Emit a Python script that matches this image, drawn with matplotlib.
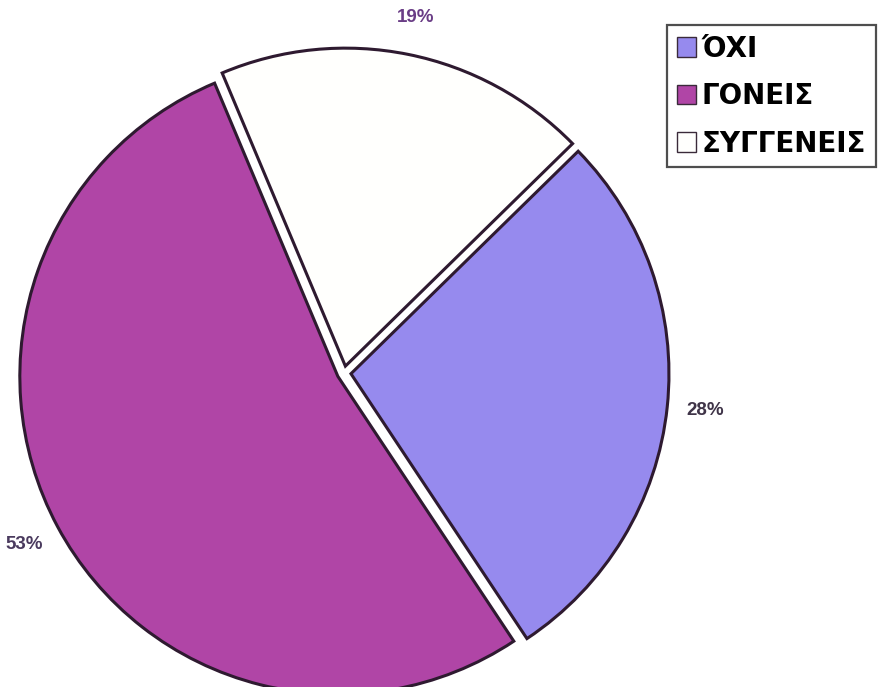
import matplotlib
matplotlib.use("Agg")
import matplotlib.pyplot as plt

categories = ["ΌΧΙ", "ΓΟΝΕΙΣ", "ΣΥΓΓΕΝΕΙΣ"]
values = [28, 53, 19]
colors = ["#968aee", "#b045a6", "#fffffd"]

plt.rcParams['font.family'] = ['Liberation Sans', 'DejaVu Sans']

W, H = 889, 687
fig = plt.figure(figsize=(W / 100, H / 100), dpi=100)
ax = fig.add_axes([0, 0, 1, 1])

# pie drawn in pixel-sized data units; explode is an absolute offset
wedges, texts, autotexts = ax.pie(
    values,
    colors=colors,
    startangle=44.4,
    counterclock=False,
    center=(344, 314),
    radius=318,
    explode=[7, 7, 7],
    autopct=lambda p: f"{p:.0f}%",
    pctdistance=1.12,
    frame=True,
    wedgeprops=dict(edgecolor="#2e1a30", linewidth=2.2),
)
ax.axis('off')
ax.set_xlim(0, W)
ax.set_ylim(0, H)
ax.set_aspect('equal')

pct_colors = ["#3f3448", "#4a3a5e", "#6a3d86"]
for t, c in zip(autotexts, pct_colors):
    t.set_fontsize(13.5)
    t.set_fontweight('bold')
    t.set_color(c)

leg = fig.legend(
    wedges, categories,
    loc='upper left',
    bbox_to_anchor=(667 / W, 1 - 25 / H),
    prop=dict(family='DejaVu Sans', weight='bold', size=20),
    frameon=True,
    fancybox=False,
    handlelength=0.7,
    handleheight=0.7,
    handletextpad=0.2,
    labelspacing=0.7,
    borderpad=0.35,
    borderaxespad=0,
)
leg.get_frame().set_edgecolor('#222222')
leg.get_frame().set_linewidth(1.6)
for h in leg.legend_handles:
    h.set_linewidth(1.0)
    h.set_edgecolor('#3a2a3a')

fig.savefig("out.png", dpi=100)
